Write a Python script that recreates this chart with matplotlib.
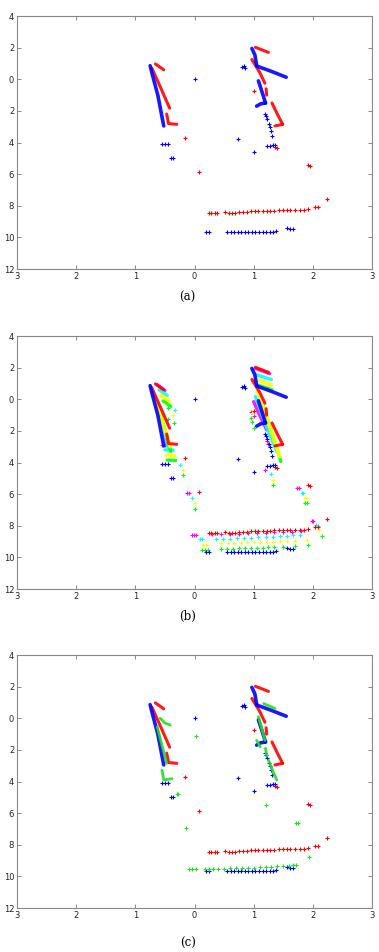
import matplotlib
matplotlib.use("Agg")
import matplotlib.pyplot as plt

# --- scan data (x, y) ---
BLUE_WALLS = [
    [(-0.75, 0.86), (-0.72, 0.40), (-0.62, -1.00), (-0.52, -2.95)],
    [(0.97, 1.95), (1.02, 1.55), (1.05, 0.90)],
    [(1.05, 0.84), (1.30, 0.50), (1.55, 0.13)],
    [(1.08, -0.10), (1.15, -0.90), (1.20, -1.50)],
    [(1.05, -1.70), (1.12, -1.55), (1.20, -1.50)],
]
BLUE_PTS = [(0.0, 0.0), (-0.55, -4.08), (-0.50, -4.08), (-0.45, -4.08), (-0.40, -5.00), (-0.37, -4.95),
            (0.80, 0.75), (0.85, 0.70), (0.84, 0.82), (1.19, -2.20), (1.21, -2.35), (1.23, -2.50),
            (1.26, -2.80), (1.28, -3.00), (1.30, -3.25), (1.31, -3.60), (0.73, -3.80), (1.00, -4.63),
            (1.22, -4.22), (1.27, -4.20), (1.32, -4.18), (1.36, -4.15), (0.20, -9.68), (0.24, -9.68),
            (0.55, -9.67), (0.61, -9.67), (0.67, -9.66), (0.73, -9.66), (0.79, -9.66), (0.85, -9.66),
            (0.91, -9.66), (0.97, -9.66), (1.03, -9.66), (1.09, -9.65), (1.15, -9.65), (1.21, -9.65),
            (1.27, -9.64), (1.33, -9.63), (1.38, -9.62), (1.57, -9.42), (1.62, -9.45), (1.66, -9.48)]

RED_WALLS = [
    [(-0.66, 0.97), (-0.52, 0.60)],
    [(-0.72, 0.70), (-0.57, -0.55), (-0.42, -1.83)],
    [(-0.47, -2.20), (-0.44, -2.80), (-0.30, -2.85)],
    [(1.03, 2.02), (1.25, 1.70)],
    [(0.97, 1.25), (1.10, 0.45), (1.19, -0.25)],
    [(1.21, -0.60), (1.22, -1.00)],
    [(1.31, -1.50), (1.40, -2.20), (1.49, -2.85)],
    [(1.36, -2.95), (1.49, -2.85)],
]
RED_PTS = [(-0.16, -3.73), (0.08, -5.85), (1.00, -0.75), (1.36, -4.30), (1.39, -4.36), (1.92, -5.45),
           (1.95, -5.47), (2.24, -7.55), (2.04, -8.10), (2.08, -8.10), (0.24, -8.46), (0.28, -8.46),
           (0.34, -8.45), (0.38, -8.44), (0.52, -8.42), (0.58, -8.45), (0.63, -8.48), (0.69, -8.44),
           (0.75, -8.40), (0.82, -8.38), (0.88, -8.37), (0.95, -8.36), (1.02, -8.34), (1.08, -8.33),
           (1.15, -8.33), (1.22, -8.32), (1.28, -8.31), (1.35, -8.30), (1.42, -8.29), (1.50, -8.28),
           (1.56, -8.27), (1.62, -8.26), (1.70, -8.27), (1.78, -8.25), (1.85, -8.24), (1.92, -8.22)]

MAGENTA_WALLS = [
    [(-0.63, 0.92), (-0.50, 0.55)],
    [(-0.73, 0.75), (-0.60, -0.80), (-0.47, -2.80)],
    [(1.03, 1.95), (1.27, 1.62)],
    [(1.00, -0.15), (1.10, -1.00), (1.22, -1.94)],
]
MAGENTA_PTS = [(-0.55, -2.88), (-0.50, -2.88), (-0.45, -2.86), (-0.13, -5.94), (-0.10, -5.92),
               (0.96, -0.80), (1.00, -1.05), (1.22, -2.67), (1.24, -2.85), (1.19, -4.46),
               (1.73, -5.62), (1.76, -5.60), (1.98, -7.73), (2.01, -7.72), (-0.05, -8.57),
               (-0.01, -8.57), (0.03, -8.58), (0.30, -8.55), (0.45, -8.55), (0.60, -8.52),
               (0.75, -8.50), (0.90, -8.47), (1.05, -8.45), (1.20, -8.43), (1.35, -8.41),
               (1.50, -8.39), (1.65, -8.37), (1.80, -8.35)]

CYAN_WALLS = [
    [(-0.60, 0.60), (-0.46, 0.25)],
    [(-0.70, 0.50), (-0.58, -1.20), (-0.45, -3.00)],
    [(-0.50, -3.20), (-0.36, -3.22)],
    [(1.04, 1.55), (1.30, 1.25)],
    [(1.03, 0.17), (1.20, -1.60), (1.39, -3.30)],
]
CYAN_PTS = [(-0.33, -0.67), (-0.24, -4.15), (-0.05, -6.25), (1.30, -4.70), (1.81, -5.94), (1.84, -5.95),
            (2.05, -7.98), (2.08, -8.00), (0.09, -8.84), (0.13, -8.84), (0.37, -8.86), (0.48, -8.84),
            (0.60, -8.82), (0.72, -8.80), (0.84, -8.78), (0.96, -8.75), (1.08, -8.73), (1.20, -8.71),
            (1.32, -8.68), (1.44, -8.66), (1.56, -8.63), (1.67, -8.61), (1.78, -8.59)]

YELLOW_WALLS = [
    [(-0.57, 0.25), (-0.43, -0.10)],
    [(-0.67, 0.06), (-0.54, -1.50), (-0.41, -3.00)],
    [(-0.48, -3.55), (-0.34, -3.57)],
    [(1.05, 1.22), (1.30, 0.92)],
    [(1.07, 0.48), (1.26, -1.60), (1.44, -3.62)],
]
YELLOW_PTS = [(-0.36, -1.00), (-0.20, -4.46), (0.01, -6.57), (0.98, -0.90), (1.33, -5.10), (1.87, -6.25),
              (1.90, -6.25), (2.10, -8.25), (0.15, -9.22), (0.20, -9.22), (0.45, -9.09), (0.56, -9.08),
              (0.67, -9.07), (0.78, -9.06), (0.89, -9.05), (1.00, -9.04), (1.11, -9.03), (1.22, -9.01),
              (1.33, -9.00), (1.45, -8.99), (1.57, -8.98), (1.70, -8.97), (1.90, -8.90)]

GREEN_B_WALLS = [
    [(-0.53, -0.10), (-0.40, -0.45)],
    [(-0.62, -0.30), (-0.51, -1.80), (-0.40, -3.30)],
    [(-0.46, -3.85), (-0.32, -3.87)],
    [(1.06, 0.90), (1.31, 0.60)],
    [(1.12, 0.06), (1.29, -1.90), (1.46, -3.94)],
]
GREEN_B_PTS = [(-0.44, -0.57), (-0.44, -1.24), (-0.35, -1.52), (-0.19, -4.82), (0.01, -6.93),
               (0.95, -1.20), (0.97, -1.45), (1.00, -1.80), (1.33, -5.45), (1.87, -6.57),
               (1.90, -6.57), (2.15, -8.67), (0.12, -9.54), (0.17, -9.54), (0.22, -9.54),
               (0.45, -9.47), (0.55, -9.46), (0.65, -9.45), (0.75, -9.43), (0.85, -9.42),
               (0.95, -9.41), (1.05, -9.39), (1.15, -9.38), (1.25, -9.36), (1.35, -9.35),
               (1.50, -9.32), (1.70, -9.30), (1.92, -9.20)]

GREEN_C_WALLS = [
    [(-0.58, 0.00), (-0.50, -0.30), (-0.41, -0.43)],
    [(-0.63, -0.54), (-0.55, -1.70), (-0.47, -2.85)],
    [(-0.55, -3.28), (-0.52, -3.90), (-0.38, -3.82)],
    [(1.17, 0.93), (1.36, 0.62)],
    [(1.08, 0.10), (1.14, -0.70), (1.19, -1.40)],
    [(1.05, -1.40), (1.11, -1.80)],
    [(1.20, -1.90), (1.22, -2.40)],
    [(1.25, -2.65), (1.32, -3.30), (1.39, -3.90)],
]
GREEN_C_PTS = [(-0.30, -4.80), (-0.28, -4.78), (0.03, -1.13), (-0.14, -6.93), (1.21, -5.50),
               (1.72, -6.60), (1.75, -6.60), (1.94, -8.77), (1.72, -9.25), (-0.10, -9.56),
               (-0.05, -9.56), (0.02, -9.56), (0.18, -9.55), (0.25, -9.56), (0.32, -9.55),
               (0.40, -9.53), (0.50, -9.52), (0.60, -9.50), (0.70, -9.48), (0.80, -9.47),
               (0.90, -9.45), (1.00, -9.44), (1.10, -9.42), (1.20, -9.41), (1.30, -9.39),
               (1.40, -9.37), (1.50, -9.35), (1.60, -9.33), (1.67, -9.30)]

X_TICKS = [-3, -2, -1, 0, 1, 2, 3]
Y_TICKS = [4, 2, 0, -2, -4, -6, -8, -10, -12]
CAPTIONS = ["(a)", "(b)", "(c)"]


def draw(ax, walls, pts, color, lw):
    for w in walls:
        xs = [p[0] for p in w]
        ys = [p[1] for p in w]
        ax.plot(xs, ys, color=color, lw=lw, solid_capstyle="round", alpha=0.9)
    ax.plot([p[0] for p in pts], [p[1] for p in pts], ls="none", marker="+",
            ms=3.2, mew=0.8, color=color)


def style(ax):
    ax.set_xlim(-3, 3)
    ax.set_ylim(-12, 4)
    ax.set_xticks(X_TICKS)
    ax.set_yticks(Y_TICKS)
    ax.set_xticklabels([str(abs(v)) for v in X_TICKS])
    ax.set_yticklabels([str(abs(v)) for v in Y_TICKS])
    ax.tick_params(direction="in", length=3, width=0.6, color="#777777",
                   labelsize=6, top=True, right=True, pad=2, labelcolor="#222222")
    for s in ax.spines.values():
        s.set_color("#888888")
        s.set_linewidth(0.8)


fig = plt.figure(figsize=(3.79, 9.52), dpi=100)
bottoms = [0.7174, 0.3813, 0.0462]
cap_y = [0.688, 0.352, 0.0095]
W, H, L = 355 / 379, 253 / 952, 17 / 379

colors = {"red": "#ff0000", "blue": "#0000ff", "magenta": "#ff00ff",
          "cyan": "#00ffff", "yellow": "#ffff00", "green": "#00ff00", "green_c": "#22dd22"}

for i, b in enumerate(bottoms):
    ax = fig.add_axes([L, b, W, H])
    style(ax)
    if i == 1:
        draw(ax, MAGENTA_WALLS, MAGENTA_PTS, colors["magenta"], 2.4)
        draw(ax, CYAN_WALLS, CYAN_PTS, colors["cyan"], 2.4)
        draw(ax, GREEN_B_WALLS, GREEN_B_PTS, colors["green"], 2.4)
        draw(ax, YELLOW_WALLS, YELLOW_PTS, colors["yellow"], 2.8)
    draw(ax, RED_WALLS, RED_PTS, colors["red"], 2.2)
    draw(ax, BLUE_WALLS, BLUE_PTS, colors["blue"], 2.6)
    if i == 2:
        draw(ax, GREEN_C_WALLS, GREEN_C_PTS, colors["green_c"], 2.0)
    fig.text(0.495, cap_y[i], CAPTIONS[i], ha="center", va="center",
             fontsize=8.5, family="DejaVu Serif")

fig.savefig("out.png", dpi=100)
